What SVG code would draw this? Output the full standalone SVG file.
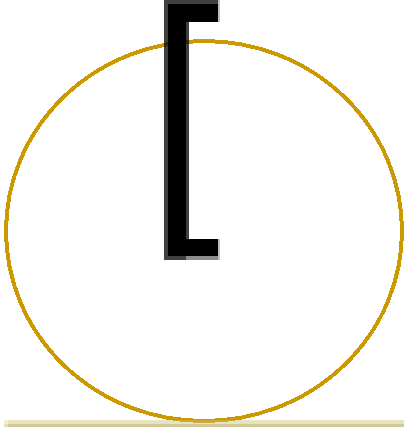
<svg xmlns="http://www.w3.org/2000/svg" width="404" height="427" viewBox="0 0 404 427">
  <style>
    .ring { fill: none; stroke: #cc9900; stroke-width: 4; shape-rendering: crispEdges; }
    .ink { fill: #000000; shape-rendering: crispEdges; }
    .fringe { fill: #000000; fill-opacity: 0.75; shape-rendering: crispEdges; }
    .fringe-light { fill: #000000; fill-opacity: 0.25; shape-rendering: crispEdges; }
    .fringe-mid { fill: #000000; fill-opacity: 0.45; shape-rendering: crispEdges; }
    .base-top { fill: #c9bf70; fill-opacity: 0.45; shape-rendering: crispEdges; }
    .base-bottom { fill: #d0ca98; shape-rendering: crispEdges; }
  </style>
  <g id="circle">
    <ellipse class="ring" cx="204" cy="231" rx="198" ry="190"/>
  </g>
  <g id="baseline">
    <rect class="base-top" x="4" y="420" width="400" height="4"/>
    <rect class="base-bottom" x="4" y="424" width="400" height="3"/>
    <rect x="4" y="420" width="4" height="7" fill="#ffffff" fill-opacity="0.4"/>
  </g>
  <g id="bracket">
    <polygon class="ink" points="168,4 218,4 218,22 186,22 186,239 218,239 218,256 168,256"/>
    <rect class="fringe" x="164" y="0" width="54" height="4"/>
    <rect class="fringe" x="164" y="4" width="4" height="256"/>
    <rect class="fringe" x="186" y="22" width="3" height="217"/>
    <rect class="fringe" x="168" y="256" width="18" height="4"/>
    <rect class="fringe-mid" x="186" y="256" width="32" height="4"/>
    <rect class="fringe-light" x="218" y="0" width="2" height="22"/>
    <rect class="fringe-light" x="218" y="239" width="2" height="21"/>
  </g>
</svg>
